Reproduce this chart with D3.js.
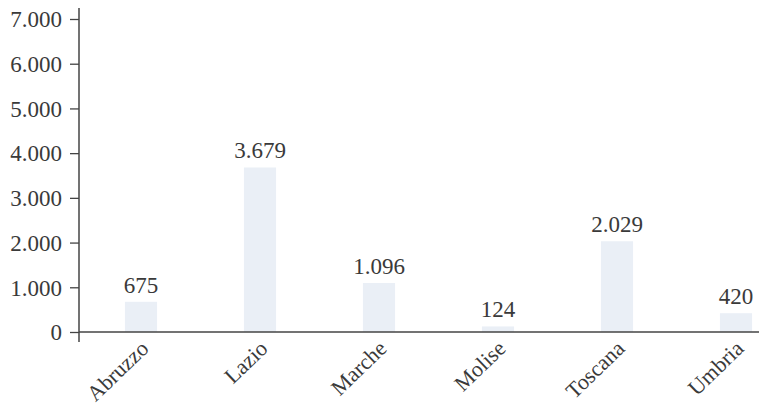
<!DOCTYPE html>
<html>
<head>
<meta charset="utf-8">
<script src="https://cdn.jsdelivr.net/npm/d3@7"></script>
<style>
  html, body { margin: 0; padding: 0; background: #fff; }
</style>
</head>
<body>
<svg id="chart" width="759" height="406"></svg>
<script>
// Regional values
const regions = ["Abruzzo", "Lazio", "Marche", "Molise", "Toscana", "Umbria"];
const values = [675, 3679, 1096, 124, 2029, 420];
const yTicks = [0, 1000, 2000, 3000, 4000, 5000, 6000, 7000];

const FONT = "'Liberation Serif', 'Times New Roman', serif";
const INK = "#3a3a3a";
const fmt = v => d3.format(",")(v).replace(/,/g, ".");

const svg = d3.select("#chart");
const axisX = 79, zeroY = 332, topY = 19;

const x = d3.scaleBand()
  .domain(regions)
  .range([81.5, 795.5])
  .paddingInner(0.73)
  .paddingOuter(0.365);

const y = d3.scaleLinear().domain([0, 7000]).range([zeroY, topY]);

// Bars
svg.append("g").selectAll("rect")
  .data(values)
  .join("rect")
  .attr("x", (d, i) => x(regions[i]))
  .attr("width", x.bandwidth())
  .attr("y", d => y(d))
  .attr("height", d => y(0) - y(d))
  .attr("fill", "#eaeff6");

// Value labels
svg.append("g").selectAll("text")
  .data(values)
  .join("text")
  .attr("x", (d, i) => x(regions[i]) + x.bandwidth() / 2)
  .attr("y", d => y(d) - 9)
  .attr("text-anchor", "middle")
  .style("font-family", FONT)
  .style("font-size", "23px")
  .style("fill", INK)
  .text(d => fmt(d));

// Y axis
const yAxis = d3.axisLeft(y).tickValues(yTicks).tickSize(9).tickPadding(8).tickFormat(fmt);
const gy = svg.append("g").attr("transform", `translate(${axisX},0)`).call(yAxis);
gy.select(".domain").remove();
gy.selectAll(".tick line").attr("stroke", "#444").attr("stroke-width", 1.3);
gy.selectAll(".tick text")
  .attr("dy", "0.34em")
  .style("font-family", FONT)
  .style("font-size", "23px")
  .style("fill", INK);
svg.append("line")
  .attr("x1", axisX).attr("x2", axisX)
  .attr("y1", 8).attr("y2", 342)
  .attr("stroke", "#444").attr("stroke-width", 1.5);

// Baseline
svg.append("line")
  .attr("x1", axisX).attr("x2", 759)
  .attr("y1", zeroY).attr("y2", zeroY)
  .attr("stroke", "#444").attr("stroke-width", 1.5);

// Category labels, rotated
svg.append("g").selectAll("text")
  .data(regions)
  .join("text")
  .attr("transform", d => `translate(${x(d) + x.bandwidth() / 2 + 9},${zeroY + 18}) rotate(-44)`)
  .attr("text-anchor", "end")
  .style("font-family", FONT)
  .style("font-size", "22px")
  .style("fill", INK)
  .text(d => d);
</script>
</body>
</html>
